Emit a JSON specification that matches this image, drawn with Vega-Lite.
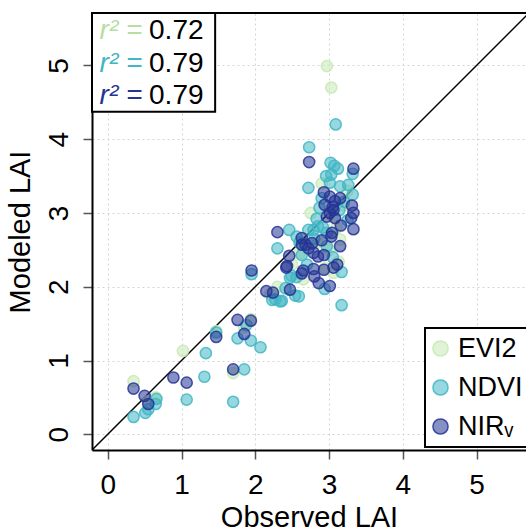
{
  "$schema": "https://vega.github.io/schema/vega-lite/v6.json",
  "autosize": "none",
  "width": 434,
  "height": 437,
  "padding": {"left": 92, "top": 13, "right": 0, "bottom": 82},
  "background": "white",
  "config": {
    "view": {"stroke": null},
    "font": "Liberation Sans",
    "axis": {
      "grid": true,
      "gridColor": "#d4d4d4",
      "gridDash": [2, 3],
      "gridWidth": 1,
      "domainColor": "black",
      "domainWidth": 2,
      "tickColor": "#555555",
      "tickSize": 9,
      "tickWidth": 1.5,
      "labelFont": "Liberation Sans",
      "labelFontSize": 28,
      "labelColor": "black",
      "format": "d",
      "titleFont": "Liberation Sans",
      "titleFontSize": 29,
      "titleFontWeight": "normal",
      "titleColor": "black"
    },
    "legend": {
      "orient": "none",
      "legendX": 333,
      "legendY": 315,
      "fillColor": "white",
      "strokeColor": "black",
      "strokeWidth": 2,
      "padding": 7,
      "labelFont": "Liberation Sans",
      "labelFontSize": 27,
      "labelColor": "black",
      "labelOffset": 4,
      "symbolOffset": -5,
      "symbolSize": 230,
      "symbolType": "circle",
      "symbolStrokeWidth": 1.5,
      "rowPadding": 11,
      "cornerRadius": 0
    }
  },
  "datasets": {
    "points": [
      {"index": "EVI2", "observed": 0.35, "modeled": 0.72},
      {"index": "EVI2", "observed": 0.55, "modeled": 0.45},
      {"index": "EVI2", "observed": 0.65, "modeled": 0.5},
      {"index": "EVI2", "observed": 1.02, "modeled": 1.13},
      {"index": "EVI2", "observed": 1.47, "modeled": 1.4},
      {"index": "EVI2", "observed": 1.7, "modeled": 0.83},
      {"index": "EVI2", "observed": 1.85, "modeled": 1.45},
      {"index": "EVI2", "observed": 1.94, "modeled": 1.56},
      {"index": "EVI2", "observed": 2.2, "modeled": 1.9},
      {"index": "EVI2", "observed": 2.3, "modeled": 2.0},
      {"index": "EVI2", "observed": 2.5, "modeled": 2.3},
      {"index": "EVI2", "observed": 2.6, "modeled": 2.45},
      {"index": "EVI2", "observed": 2.65, "modeled": 2.1},
      {"index": "EVI2", "observed": 2.75, "modeled": 3.0},
      {"index": "EVI2", "observed": 2.85, "modeled": 2.6},
      {"index": "EVI2", "observed": 2.9, "modeled": 3.4},
      {"index": "EVI2", "observed": 2.95, "modeled": 2.25},
      {"index": "EVI2", "observed": 2.97, "modeled": 4.99},
      {"index": "EVI2", "observed": 3.0, "modeled": 2.5},
      {"index": "EVI2", "observed": 3.03, "modeled": 4.7},
      {"index": "EVI2", "observed": 3.05, "modeled": 2.95},
      {"index": "EVI2", "observed": 3.06, "modeled": 2.19},
      {"index": "EVI2", "observed": 3.1, "modeled": 2.8},
      {"index": "EVI2", "observed": 3.13, "modeled": 2.34},
      {"index": "EVI2", "observed": 3.15, "modeled": 2.64},
      {"index": "EVI2", "observed": 3.2, "modeled": 3.1},
      {"index": "EVI2", "observed": 3.25, "modeled": 3.3},
      {"index": "NDVI", "observed": 0.35, "modeled": 0.235},
      {"index": "NDVI", "observed": 0.51, "modeled": 0.29},
      {"index": "NDVI", "observed": 0.55, "modeled": 0.34},
      {"index": "NDVI", "observed": 0.65, "modeled": 0.41},
      {"index": "NDVI", "observed": 0.66, "modeled": 0.48},
      {"index": "NDVI", "observed": 1.07, "modeled": 0.47},
      {"index": "NDVI", "observed": 1.31, "modeled": 0.78},
      {"index": "NDVI", "observed": 1.33, "modeled": 1.1},
      {"index": "NDVI", "observed": 1.47, "modeled": 1.38},
      {"index": "NDVI", "observed": 1.7, "modeled": 0.44},
      {"index": "NDVI", "observed": 1.85, "modeled": 0.88},
      {"index": "NDVI", "observed": 1.76, "modeled": 1.3},
      {"index": "NDVI", "observed": 1.94, "modeled": 1.27},
      {"index": "NDVI", "observed": 1.88, "modeled": 1.48},
      {"index": "NDVI", "observed": 2.07, "modeled": 1.18},
      {"index": "NDVI", "observed": 1.95, "modeled": 2.17},
      {"index": "NDVI", "observed": 3.09, "modeled": 4.2},
      {"index": "NDVI", "observed": 2.73, "modeled": 3.89},
      {"index": "NDVI", "observed": 3.02, "modeled": 3.68},
      {"index": "NDVI", "observed": 3.07, "modeled": 3.64},
      {"index": "NDVI", "observed": 3.12, "modeled": 3.6},
      {"index": "NDVI", "observed": 3.32, "modeled": 3.53},
      {"index": "NDVI", "observed": 2.96, "modeled": 3.5},
      {"index": "NDVI", "observed": 3.03, "modeled": 3.52},
      {"index": "NDVI", "observed": 2.72, "modeled": 3.34},
      {"index": "NDVI", "observed": 3.01, "modeled": 3.41},
      {"index": "NDVI", "observed": 3.15, "modeled": 3.36},
      {"index": "NDVI", "observed": 3.26, "modeled": 3.38},
      {"index": "NDVI", "observed": 3.32, "modeled": 3.25},
      {"index": "NDVI", "observed": 2.9, "modeled": 3.2},
      {"index": "NDVI", "observed": 3.2, "modeled": 3.15},
      {"index": "NDVI", "observed": 2.87, "modeled": 3.07},
      {"index": "NDVI", "observed": 2.83, "modeled": 2.92},
      {"index": "NDVI", "observed": 3.14, "modeled": 3.04},
      {"index": "NDVI", "observed": 3.25, "modeled": 2.9},
      {"index": "NDVI", "observed": 2.79, "modeled": 2.77},
      {"index": "NDVI", "observed": 2.85, "modeled": 2.82},
      {"index": "NDVI", "observed": 2.92, "modeled": 2.8},
      {"index": "NDVI", "observed": 2.97, "modeled": 2.73},
      {"index": "NDVI", "observed": 2.72, "modeled": 2.77},
      {"index": "NDVI", "observed": 2.8, "modeled": 2.65},
      {"index": "NDVI", "observed": 2.6, "modeled": 2.6},
      {"index": "NDVI", "observed": 2.46, "modeled": 2.77},
      {"index": "NDVI", "observed": 2.56, "modeled": 2.68},
      {"index": "NDVI", "observed": 2.3, "modeled": 2.52},
      {"index": "NDVI", "observed": 2.63, "modeled": 2.43},
      {"index": "NDVI", "observed": 2.97, "modeled": 2.55},
      {"index": "NDVI", "observed": 3.05, "modeled": 2.4},
      {"index": "NDVI", "observed": 2.7, "modeled": 2.3},
      {"index": "NDVI", "observed": 3.17, "modeled": 2.2},
      {"index": "NDVI", "observed": 2.49, "modeled": 2.15},
      {"index": "NDVI", "observed": 2.56, "modeled": 2.13},
      {"index": "NDVI", "observed": 2.47, "modeled": 2.12},
      {"index": "NDVI", "observed": 2.94, "modeled": 1.97},
      {"index": "NDVI", "observed": 2.41, "modeled": 1.98},
      {"index": "NDVI", "observed": 2.54, "modeled": 1.88},
      {"index": "NDVI", "observed": 2.59, "modeled": 1.87},
      {"index": "NDVI", "observed": 2.36, "modeled": 1.81},
      {"index": "NDVI", "observed": 2.27, "modeled": 1.83},
      {"index": "NDVI", "observed": 2.23, "modeled": 1.82},
      {"index": "NDVI", "observed": 2.34, "modeled": 1.8},
      {"index": "NDVI", "observed": 3.17, "modeled": 1.75},
      {"index": "NIRv", "observed": 0.35, "modeled": 0.62},
      {"index": "NIRv", "observed": 0.5, "modeled": 0.52},
      {"index": "NIRv", "observed": 0.55, "modeled": 0.41},
      {"index": "NIRv", "observed": 0.89, "modeled": 0.77},
      {"index": "NIRv", "observed": 1.07, "modeled": 0.7},
      {"index": "NIRv", "observed": 1.47, "modeled": 1.32},
      {"index": "NIRv", "observed": 1.7, "modeled": 0.88},
      {"index": "NIRv", "observed": 1.76, "modeled": 1.55},
      {"index": "NIRv", "observed": 1.94, "modeled": 1.54},
      {"index": "NIRv", "observed": 1.85, "modeled": 1.36},
      {"index": "NIRv", "observed": 1.95, "modeled": 2.22},
      {"index": "NIRv", "observed": 2.73, "modeled": 3.69},
      {"index": "NIRv", "observed": 3.33, "modeled": 3.6},
      {"index": "NIRv", "observed": 2.93, "modeled": 3.28},
      {"index": "NIRv", "observed": 3.01, "modeled": 3.22},
      {"index": "NIRv", "observed": 3.08, "modeled": 3.16},
      {"index": "NIRv", "observed": 3.15, "modeled": 3.2},
      {"index": "NIRv", "observed": 2.94, "modeled": 3.11},
      {"index": "NIRv", "observed": 3.05, "modeled": 3.08},
      {"index": "NIRv", "observed": 3.01, "modeled": 3.0},
      {"index": "NIRv", "observed": 3.08, "modeled": 2.93},
      {"index": "NIRv", "observed": 3.06, "modeled": 3.04},
      {"index": "NIRv", "observed": 2.97, "modeled": 2.95},
      {"index": "NIRv", "observed": 3.31, "modeled": 3.1},
      {"index": "NIRv", "observed": 3.33, "modeled": 3.0},
      {"index": "NIRv", "observed": 3.3, "modeled": 2.93},
      {"index": "NIRv", "observed": 3.16, "modeled": 2.83},
      {"index": "NIRv", "observed": 3.33, "modeled": 2.78},
      {"index": "NIRv", "observed": 3.04, "modeled": 2.73},
      {"index": "NIRv", "observed": 3.03, "modeled": 2.68},
      {"index": "NIRv", "observed": 2.9, "modeled": 2.63},
      {"index": "NIRv", "observed": 2.77, "modeled": 2.59},
      {"index": "NIRv", "observed": 2.3, "modeled": 2.74},
      {"index": "NIRv", "observed": 2.63, "modeled": 2.66},
      {"index": "NIRv", "observed": 2.68, "modeled": 2.57},
      {"index": "NIRv", "observed": 2.63, "modeled": 2.57},
      {"index": "NIRv", "observed": 2.72, "modeled": 2.52},
      {"index": "NIRv", "observed": 2.79, "modeled": 2.46},
      {"index": "NIRv", "observed": 2.85, "modeled": 2.41},
      {"index": "NIRv", "observed": 2.93, "modeled": 2.43},
      {"index": "NIRv", "observed": 3.15, "modeled": 2.55},
      {"index": "NIRv", "observed": 2.46, "modeled": 2.42},
      {"index": "NIRv", "observed": 2.43, "modeled": 2.28},
      {"index": "NIRv", "observed": 2.42, "modeled": 2.26},
      {"index": "NIRv", "observed": 2.65, "modeled": 2.22},
      {"index": "NIRv", "observed": 2.63, "modeled": 2.18},
      {"index": "NIRv", "observed": 2.79, "modeled": 2.24},
      {"index": "NIRv", "observed": 2.93, "modeled": 2.23},
      {"index": "NIRv", "observed": 3.06, "modeled": 2.26},
      {"index": "NIRv", "observed": 3.11, "modeled": 2.3},
      {"index": "NIRv", "observed": 2.8, "modeled": 2.14},
      {"index": "NIRv", "observed": 2.86, "modeled": 2.05},
      {"index": "NIRv", "observed": 3.01, "modeled": 2.01},
      {"index": "NIRv", "observed": 2.47, "modeled": 1.96},
      {"index": "NIRv", "observed": 2.15, "modeled": 1.94},
      {"index": "NIRv", "observed": 2.24, "modeled": 1.92}
    ],
    "stats": [
      {"index": "EVI2", "r2": "0.72"},
      {"index": "NDVI", "r2": "0.79"},
      {"index": "NIRv", "r2": "0.79"}
    ]
  },
  "layer": [
    {
      "data": {"values": [{}]},
      "mark": {"type": "rect", "fill": "white", "stroke": "black", "strokeWidth": 2},
      "encoding": {
        "x": {"datum": -0.213, "type": "quantitative", "scale": {"domain": [-0.213, 5.669], "nice": false, "zero": false},
              "axis": {"values": [0, 1, 2, 3, 4, 5], "title": "Observed LAI", "labelPadding": 12, "titlePadding": 4}},
        "x2": {"datum": 1.456},
        "y": {"datum": 5.71, "type": "quantitative", "scale": {"domain": [-0.213, 5.71], "nice": false, "zero": false},
              "axis": {"values": [0, 1, 2, 3, 4, 5], "title": "Modeled LAI", "labelAngle": -90, "labelAlign": "center", "labelBaseline": "alphabetic", "labelPadding": 16, "titlePadding": 10}},
        "y2": {"datum": 4.373}
      }
    },
    {
      "data": {"values": [{}]},
      "mark": {"type": "rule", "color": "black", "strokeWidth": 1.5, "clip": true},
      "encoding": {
        "x": {"datum": -0.213, "type": "quantitative"},
        "y": {"datum": -0.213, "type": "quantitative"},
        "x2": {"datum": 5.71},
        "y2": {"datum": 5.71}
      }
    },
    {
      "data": {"name": "points"},
      "mark": {"type": "point", "filled": true, "shape": "circle", "size": 125, "fillOpacity": 0.55, "strokeOpacity": 0.85, "strokeWidth": 1.5},
      "encoding": {
        "x": {"field": "observed", "type": "quantitative"},
        "y": {"field": "modeled", "type": "quantitative"},
        "fill": {"field": "index", "type": "nominal",
                 "scale": {"domain": ["EVI2", "NDVI", "NIRv"], "range": ["#c7e9b4", "#41b6c4", "#253494"]},
                 "legend": {"title": null, "labelExpr": "datum.label == 'NIRv' ? 'NIRᵥ' : datum.label",
                            "encode": {"symbols": {"update": {"fillOpacity": {"value": 0.55}, "strokeOpacity": {"value": 0.85}}}}}},
        "stroke": {"field": "index", "type": "nominal",
                   "scale": {"domain": ["EVI2", "NDVI", "NIRv"], "range": ["#c7e9b4", "#41b6c4", "#253494"]},
                   "legend": {"title": null, "labelExpr": "datum.label == 'NIRv' ? 'NIRᵥ' : datum.label",
                              "encode": {"symbols": {"update": {"fillOpacity": {"value": 0.55}, "strokeOpacity": {"value": 0.85}}}}}}
      }
    },
    {
      "data": {"values": [{}]},
      "mark": {"type": "rule", "color": "black", "strokeWidth": 2},
      "encoding": {"y": {"datum": 5.71, "type": "quantitative"}}
    },
    {
      "data": {"name": "stats"},
      "transform": [{"filter": "datum.index == 'EVI2'"}],
      "mark": {"type": "text", "text": "r² =", "align": "left", "baseline": "middle", "fontSize": 28, "fontStyle": "italic", "color": "#b5e0a0"},
      "encoding": {"x": {"datum": -0.11, "type": "quantitative"}, "y": {"datum": 5.46, "type": "quantitative"}}
    },
    {
      "data": {"name": "stats"},
      "transform": [{"filter": "datum.index == 'EVI2'"}],
      "mark": {"type": "text", "align": "left", "baseline": "middle", "fontSize": 28, "color": "black"},
      "encoding": {"x": {"datum": 0.56, "type": "quantitative"}, "y": {"datum": 5.46, "type": "quantitative"}, "text": {"field": "r2"}}
    },
    {
      "data": {"name": "stats"},
      "transform": [{"filter": "datum.index == 'NDVI'"}],
      "mark": {"type": "text", "text": "r² =", "align": "left", "baseline": "middle", "fontSize": 28, "fontStyle": "italic", "color": "#41b6c4"},
      "encoding": {"x": {"datum": -0.11, "type": "quantitative"}, "y": {"datum": 5.02, "type": "quantitative"}}
    },
    {
      "data": {"name": "stats"},
      "transform": [{"filter": "datum.index == 'NDVI'"}],
      "mark": {"type": "text", "align": "left", "baseline": "middle", "fontSize": 28, "color": "black"},
      "encoding": {"x": {"datum": 0.56, "type": "quantitative"}, "y": {"datum": 5.02, "type": "quantitative"}, "text": {"field": "r2"}}
    },
    {
      "data": {"name": "stats"},
      "transform": [{"filter": "datum.index == 'NIRv'"}],
      "mark": {"type": "text", "text": "r² =", "align": "left", "baseline": "middle", "fontSize": 28, "fontStyle": "italic", "color": "#253494"},
      "encoding": {"x": {"datum": -0.11, "type": "quantitative"}, "y": {"datum": 4.58, "type": "quantitative"}}
    },
    {
      "data": {"name": "stats"},
      "transform": [{"filter": "datum.index == 'NIRv'"}],
      "mark": {"type": "text", "align": "left", "baseline": "middle", "fontSize": 28, "color": "black"},
      "encoding": {"x": {"datum": 0.56, "type": "quantitative"}, "y": {"datum": 4.58, "type": "quantitative"}, "text": {"field": "r2"}}
    }
  ]
}
